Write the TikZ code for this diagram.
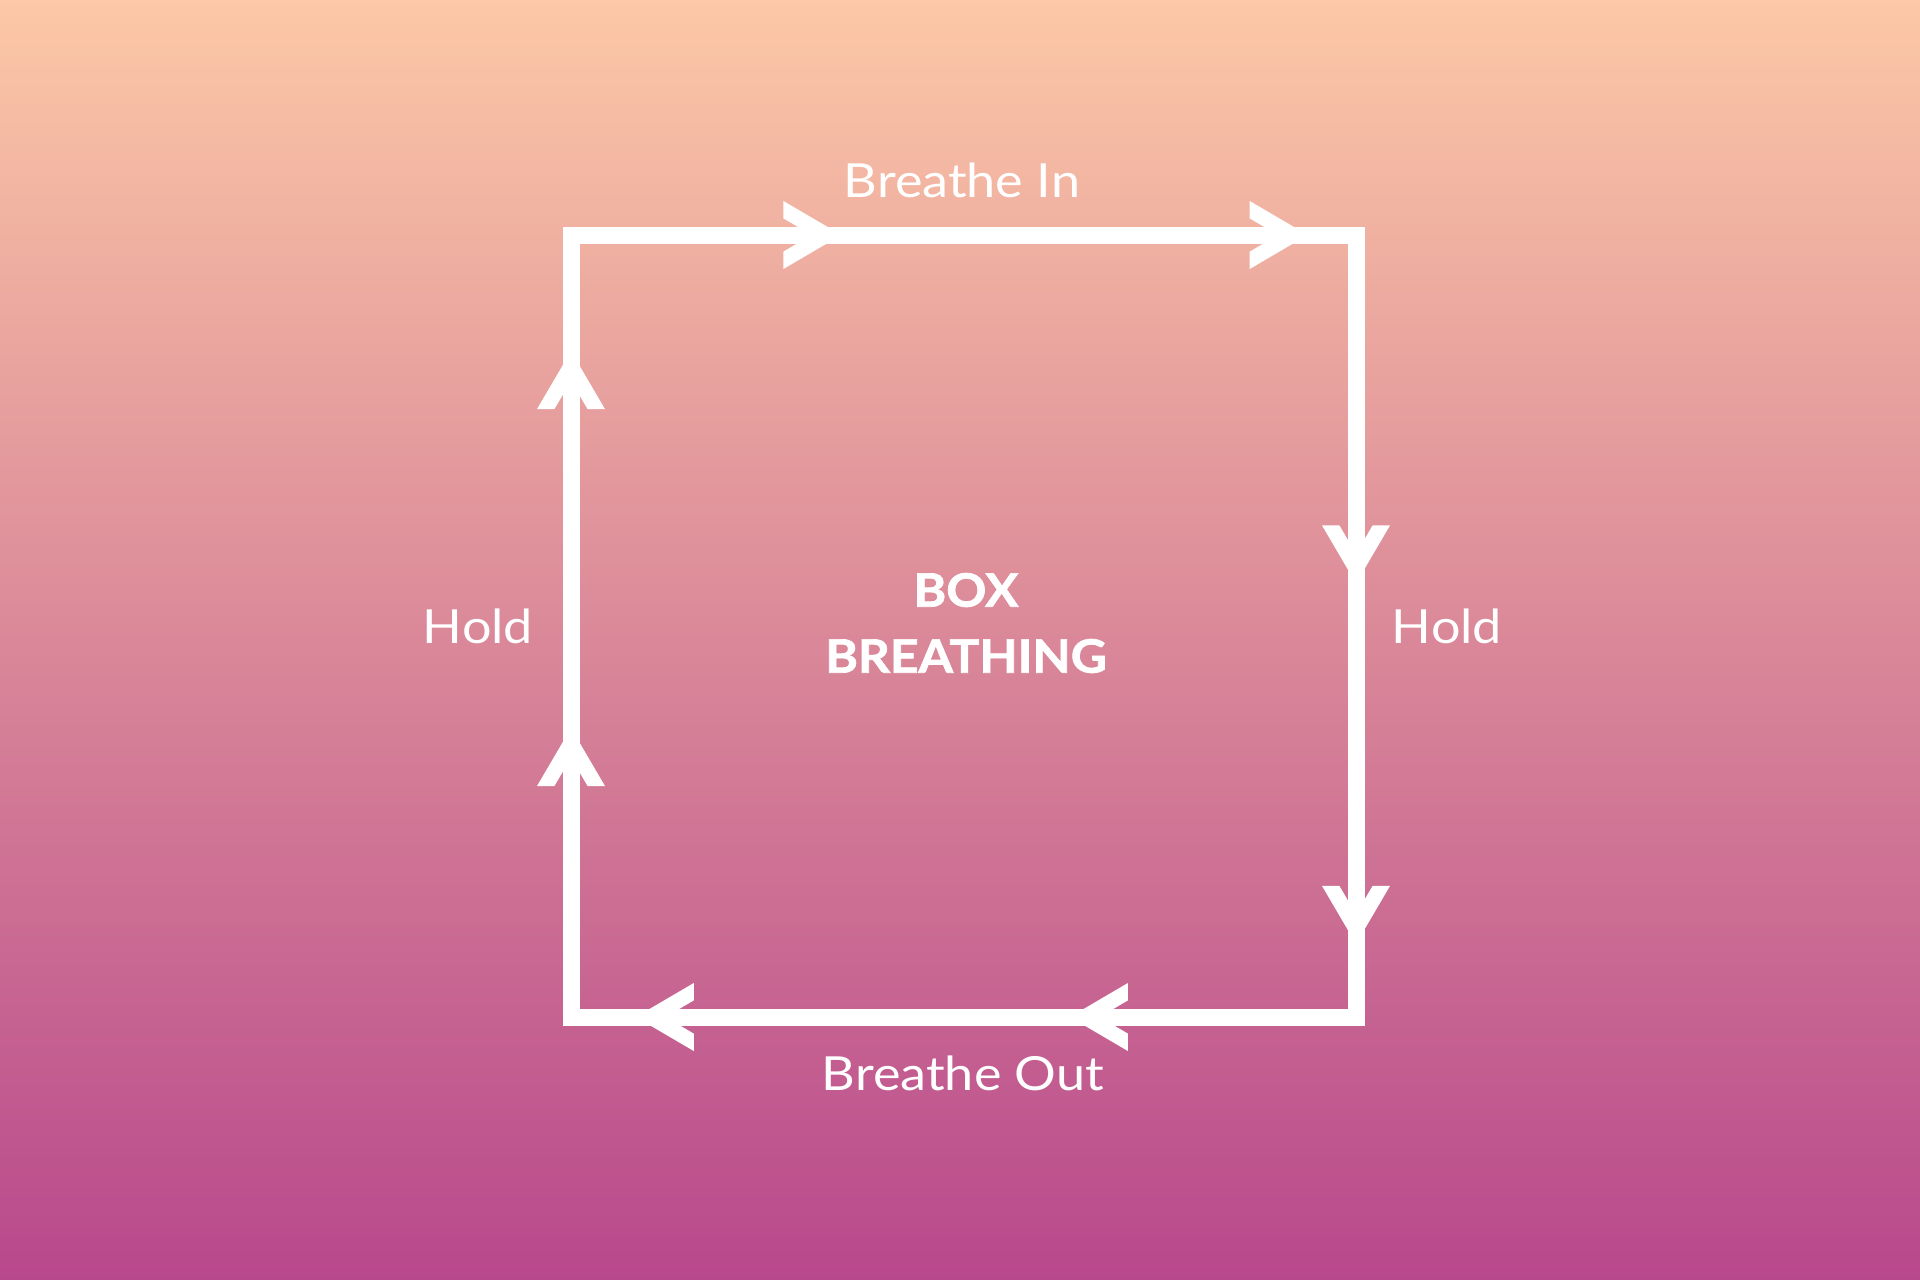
\documentclass[tikz,border=0pt]{standalone}
\usepackage{fontspec}
\setmainfont{Lato}[FakeStretch=1.11]
\newfontfamily\ttlfont{Lato}[FakeStretch=1.08, BoldFeatures={FakeBold=1.6}]
\usetikzlibrary{calc}
\definecolor{bgtop}{HTML}{FCC8A6}
\definecolor{bgmid}{HTML}{DE8C9C}
\definecolor{bgbot}{HTML}{B8488C}
\tikzset{
  sqline/.style={draw=white, line width=17pt, line join=miter},
  lbl/.style={text=white, font=\fontsize{47}{56}\selectfont, inner sep=0pt, anchor=base},
  ttl/.style={text=white, font=\ttlfont\fontsize{46}{66}\selectfont\bfseries, inner sep=0pt, align=center},
  chev/.pic={\fill[white] (9,0) -- (-49,34) -- (-49,16.6) -- (-20.7,0) -- (-49,-16.6) -- (-49,-34) -- cycle;}
}
\begin{document}
\begin{tikzpicture}[x=1pt,y=-1pt]
\shade[top color=bgtop, middle color=bgmid, bottom color=bgbot] (0,0) rectangle (1920,1280);
\useasboundingbox (0,0) rectangle (1920,1280);
\coordinate (tl) at (571,235);
\coordinate (tr) at (1356,235);
\coordinate (br) at (1356,1017);
\coordinate (bl) at (571,1017);
\draw[sqline] (tl) -- (tr) -- (br) -- (bl) -- cycle;
% chevrons
\pic at ($(tl)!0.333!(tr)$) {chev};
\pic at ($(tl)!0.927!(tr)$) {chev};
\pic[rotate=-90] at ($(tr)!0.434!(br)$) {chev};
\pic[rotate=-90] at ($(tr)!0.895!(br)$) {chev};
\pic[rotate=180] at ($(br)!0.353!(bl)$) {chev};
\pic[rotate=180] at ($(br)!0.906!(bl)$) {chev};
\pic[rotate=90] at ($(bl)!0.358!(tl)$) {chev};
\pic[rotate=90] at ($(bl)!0.840!(tl)$) {chev};
% labels
\node[lbl] (bin) at (962,197) {Breathe In};
\node[lbl] (hl) at (478,643) {Hold};
\node[lbl] (hr) at (1447,643) {Hold};
\node[lbl] (bout) at (963,1090) {Breathe Out};
\node[ttl] (title) at (966,623) {BOX\\BREATHING};
\end{tikzpicture}
\end{document}
